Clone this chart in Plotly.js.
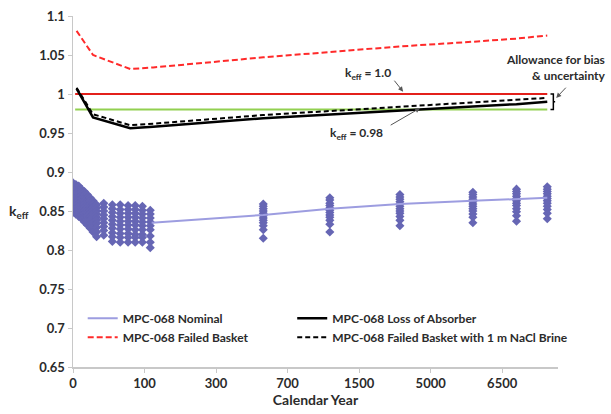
<!DOCTYPE html>
<html>
<head>
<meta charset="utf-8">
<script src="https://cdn.plot.ly/plotly-3.0.1.min.js"></script>
<style>html,body{margin:0;padding:0;background:#fff}#chart{width:611px;height:414px}</style>
</head>
<body>
<div id="chart"></div>
<script>
// Axis categories (equally spaced calendar-year labels)
const xTickPos = [0, 1, 2, 3, 4, 5, 6];
const xTickLabels = ['0', '100', '300', '700', '1500', '5000', '6500'];
const yTickVals = [0.65, 0.7, 0.75, 0.8, 0.85, 0.9, 0.95, 1, 1.05, 1.1];
const yTickLabels = ['0.65', '0.7', '0.75', '0.8', '0.85', '0.9', '0.95', '1', '1.05', '1.1'];

// Curve positions on the calendar axis
const curveX = [0.05, 0.28, 0.80, 1.12, 2.66, 3.59, 4.57, 5.59, 6.20, 6.63];
const lossOfAbsorber = [1.007, 0.970, 0.956, 0.958, 0.969, 0.974, 0.979, 0.984, 0.987, 0.990];
const failedBasketBrine = [1.008, 0.974, 0.960, 0.962, 0.973, 0.978, 0.984, 0.989, 0.992, 0.995];
const failedBasket = [1.081, 1.050, 1.032, 1.034, 1.047, 1.054, 1.061, 1.067, 1.071, 1.075];

// Nominal mean line
const nominalX = [1.10, 2.66, 3.59, 4.57, 5.59, 6.20, 6.63];
const nominalY = [0.835, 0.845, 0.853, 0.859, 0.863, 0.865, 0.867];

// Limits
const limitX = [0.03, 6.63];
const keffLimit = [1.0, 1.0];
const keffUSL = [0.98, 0.98];

// Nominal individual calculations: column positions and values
const colPos = [0.00, 0.04, 0.08, 0.12, 0.16, 0.20, 0.24, 0.28, 0.33,
                0.43, 0.55, 0.66, 0.77, 0.87, 0.97, 1.08,
                2.66, 3.59, 4.57, 5.59, 6.20, 6.63];
const colVals = [
  [0.886, 0.881, 0.876, 0.872, 0.868, 0.864, 0.860, 0.856, 0.852, 0.848],
  [0.884, 0.879, 0.874, 0.870, 0.866, 0.862, 0.858, 0.854, 0.850, 0.846],
  [0.882, 0.877, 0.872, 0.868, 0.864, 0.860, 0.856, 0.852, 0.848, 0.843],
  [0.878, 0.874, 0.870, 0.866, 0.862, 0.858, 0.854, 0.850, 0.845, 0.840],
  [0.875, 0.871, 0.867, 0.863, 0.859, 0.855, 0.851, 0.847, 0.842, 0.836],
  [0.871, 0.867, 0.863, 0.859, 0.855, 0.851, 0.847, 0.843, 0.838, 0.832],
  [0.867, 0.863, 0.859, 0.855, 0.851, 0.847, 0.843, 0.839, 0.834, 0.828],
  [0.863, 0.859, 0.855, 0.851, 0.847, 0.843, 0.839, 0.835, 0.830, 0.823],
  [0.858, 0.854, 0.850, 0.846, 0.842, 0.838, 0.834, 0.829, 0.823, 0.817],
  [0.860, 0.855, 0.850, 0.845, 0.840, 0.835, 0.830, 0.825, 0.819],
  [0.858, 0.853, 0.848, 0.843, 0.838, 0.833, 0.828, 0.822, 0.817, 0.811],
  [0.858, 0.852, 0.847, 0.842, 0.837, 0.832, 0.827, 0.821, 0.816, 0.810],
  [0.857, 0.852, 0.847, 0.842, 0.837, 0.832, 0.827, 0.821, 0.816, 0.810],
  [0.857, 0.852, 0.847, 0.842, 0.837, 0.832, 0.826, 0.820, 0.816, 0.810],
  [0.856, 0.851, 0.846, 0.841, 0.836, 0.831, 0.826, 0.820, 0.816, 0.810],
  [0.851, 0.846, 0.841, 0.836, 0.831, 0.826, 0.818, 0.810, 0.803],
  [0.859, 0.856, 0.853, 0.850, 0.847, 0.844, 0.841, 0.838, 0.835, 0.831, 0.826, 0.815],
  [0.867, 0.864, 0.860, 0.857, 0.854, 0.851, 0.848, 0.845, 0.842, 0.838, 0.833, 0.823],
  [0.871, 0.868, 0.865, 0.862, 0.859, 0.856, 0.853, 0.850, 0.847, 0.843, 0.838, 0.831],
  [0.874, 0.871, 0.868, 0.865, 0.862, 0.859, 0.856, 0.853, 0.850, 0.846, 0.842, 0.835],
  [0.878, 0.875, 0.872, 0.869, 0.866, 0.863, 0.860, 0.857, 0.853, 0.849, 0.844, 0.837],
  [0.881, 0.878, 0.875, 0.872, 0.869, 0.866, 0.863, 0.860, 0.856, 0.852, 0.847, 0.840]
];

const ptsX = [], ptsY = [];
colPos.forEach((p, i) => colVals[i].forEach(v => { ptsX.push(p); ptsY.push(v); }));

const FONT = 'Lato, "Open Sans", sans-serif';
const TXT = '#2b2b2b';

const traces = [
  {x: ptsX, y: ptsY, mode: 'markers', type: 'scatter', showlegend: false, hoverinfo: 'skip',
   marker: {symbol: 'diamond', size: 7, color: '#6666b4'}},
  {x: limitX, y: keffLimit, mode: 'lines', showlegend: false, line: {color: '#e3201b', width: 2}},
  {x: limitX, y: keffUSL, mode: 'lines', showlegend: false, line: {color: '#92d050', width: 2}},
  {x: nominalX, y: nominalY, mode: 'lines', name: 'MPC-068 Nominal', legend: 'legend', line: {color: '#9d9de0', width: 2}},
  {x: curveX, y: lossOfAbsorber, mode: 'lines', name: 'MPC-068 Loss of Absorber', legend: 'legend2', line: {color: '#000', width: 2.5}},
  {x: curveX, y: failedBasket, mode: 'lines', name: 'MPC-068 Failed Basket', legend: 'legend', line: {color: '#ff2a2a', width: 2, dash: '6px,3px'}},
  {x: curveX, y: failedBasketBrine, mode: 'lines', name: 'MPC-068 Failed Basket with 1 m NaCl Brine', legend: 'legend2', line: {color: '#000', width: 2, dash: '5px,3px'}}
];

const arrowStyle = {showarrow: true, arrowhead: 2, arrowsize: 1, arrowwidth: 1, arrowcolor: '#555', standoff: 0, startstandoff: 0, axref: 'x', ayref: 'y', text: ''};
const legendBase = {orientation: 'v', xanchor: 'left', y: 0.18, yanchor: 'top', traceorder: 'normal',
  bgcolor: 'rgba(0,0,0,0)', font: {family: FONT, size: 12, color: TXT, weight: 'bold'}, itemwidth: 30, tracegroupgap: 0};

const layout = {
  width: 611, height: 414,
  margin: {l: 73, r: 53, t: 16, b: 47},
  paper_bgcolor: '#fff', plot_bgcolor: '#fff',
  font: {family: FONT, color: TXT, size: 12, weight: 'bold'},
  showlegend: true,
  legend: Object.assign({}, legendBase, {x: 0.02}),
  legend2: Object.assign({}, legendBase, {x: 0.452}),
  xaxis: {range: [0, 6.78], tickvals: xTickPos, ticktext: xTickLabels, showgrid: false, zeroline: false,
          showline: true, linecolor: '#c8c8c8', linewidth: 1.5, ticks: 'outside', ticklen: 4, tickcolor: '#c8c8c8',
          tickfont: {family: FONT, size: 13, color: TXT, weight: 'bold'},
          title: {text: 'Calendar Year', font: {family: FONT, size: 14, color: TXT, weight: 'bold'}, standoff: 4}},
  yaxis: {range: [0.65, 1.1], tickvals: yTickVals, ticktext: yTickLabels, showgrid: false, zeroline: false,
          showline: true, linecolor: '#c8c8c8', linewidth: 1.5, ticks: 'outside', ticklen: 4, tickcolor: '#c8c8c8',
          tickfont: {family: FONT, size: 13, color: TXT, weight: 'bold'}},
  shapes: [
    {type: 'path', xref: 'x', yref: 'y', path: 'M 6.675,1.0 L 6.715,1.0 L 6.715,0.98 L 6.675,0.98 M 6.715,0.99 L 6.74,0.99',
     line: {color: '#000', width: 1.5}}
  ],
  annotations: [
    {xref: 'paper', x: 0, xanchor: 'right', xshift: -42, yref: 'y', y: 0.85, showarrow: false,
     text: 'k<sub>eff</sub>', font: {family: FONT, size: 14, color: TXT, weight: 'bold'}},
    {xref: 'x', yref: 'y', x: 4.13, y: 1.026, showarrow: false, text: 'k<sub>eff</sub> = 1.0',
     font: {family: FONT, size: 12, color: TXT, weight: 'bold'}},
    {xref: 'x', yref: 'y', x: 3.96, y: 0.950, showarrow: false, text: 'k<sub>eff</sub> = 0.98',
     font: {family: FONT, size: 12, color: TXT, weight: 'bold'}},
    {xref: 'paper', yref: 'y', x: 1.103, xanchor: 'right', y: 1.034, showarrow: false, align: 'right',
     text: 'Allowance for bias<br>& uncertainty', font: {family: FONT, size: 12, color: TXT, weight: 'bold'}},
    Object.assign({}, arrowStyle, {x: 4.615, y: 1.003, ax: 4.476, ay: 1.019}),
    Object.assign({}, arrowStyle, {x: 4.853, y: 0.982, ax: 4.42, ay: 0.959}),
    Object.assign({}, arrowStyle, {x: 6.755, y: 0.995, ax: 6.909, ay: 1.010})
  ]
};

Plotly.newPlot('chart', traces, layout, {displayModeBar: false, staticPlot: true});
</script>
</body>
</html>
